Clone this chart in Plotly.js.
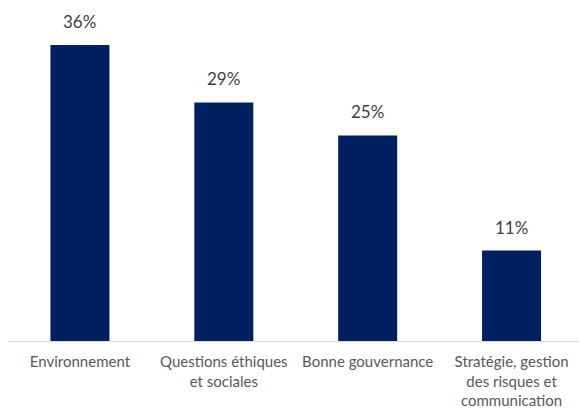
<!DOCTYPE html>
<html><head><meta charset="utf-8">
<script src="https://cdn.plot.ly/plotly-3.0.1.min.js"></script>
<style>html,body{margin:0;padding:0;background:#fff}#c{width:579px;height:409px}</style>
</head><body><div id="c"></div>
<script>
const categories = ["Environnement", "Questions éthiques et sociales", "Bonne gouvernance", "Stratégie, gestion des risques et communication"];
const tickLabels = ["Environnement", "Questions éthiques<br>et sociales", "Bonne gouvernance", "Stratégie, gestion<br>des risques et<br>communication"];
const values = [36, 29, 25, 11];

const FONT = "Lato, 'Open Sans', sans-serif";
const trace = {
  type: "bar", x: categories, y: values, width: 0.41,
  marker: {color: "#002060"}, hoverinfo: "none"
};
const annotations = categories.map((c, i) => ({
  x: c, y: values[i], text: values[i] + "%", showarrow: false,
  yanchor: "bottom", yshift: 11, font: {family: FONT, size: 17, color: "#404040"}
}));
Plotly.newPlot("c", [trace], {
  width: 579, height: 409,
  margin: {l: 7.5, r: 0, t: 12, b: 67.5},
  paper_bgcolor: "#fff", plot_bgcolor: "#fff",
  showlegend: false,
  xaxis: {type: "category", range: [-0.5, 3.46875], tickvals: categories, ticktext: tickLabels,
    showline: true, linecolor: "#d9d9d9", linewidth: 1, ticks: "", showgrid: false, zeroline: false,
    tickfont: {family: FONT, size: 15, color: "#595959"}, ticklabelstandoff: 7},
  yaxis: {range: [0, 40], visible: false, showgrid: false, zeroline: false},
  annotations: annotations
}, {displayModeBar: false, staticPlot: true});
</script></body></html>
